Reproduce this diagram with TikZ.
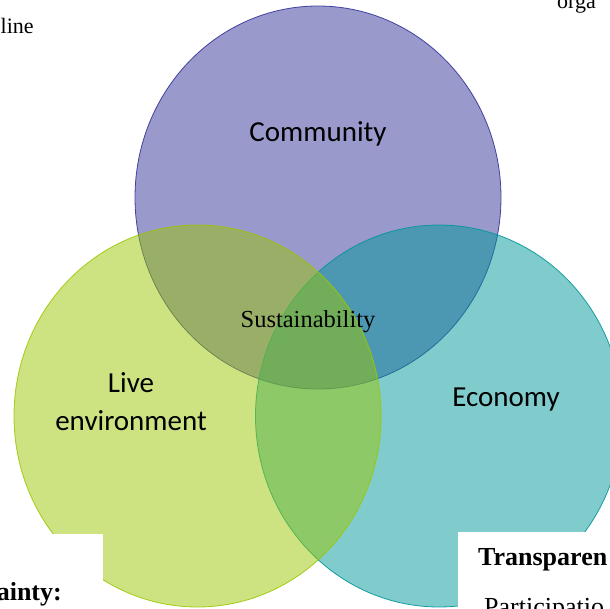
\documentclass[tikz,border=0pt]{standalone}
\usepackage{fontspec}
\setmainfont{Liberation Serif}
\newfontfamily\labelfont{Carlito}
\definecolor{commC}{HTML}{333399}
\definecolor{envC}{HTML}{9BC703}
\definecolor{ecoC}{HTML}{019799}
\begin{document}
\begin{tikzpicture}[x=1pt,y=-1pt,
  venn/.style={line width=0.8pt, fill opacity=0.5, draw opacity=0.9},
  setlabel/.style={inner sep=0pt, font=\labelfont\fontsize{29}{38}\selectfont, align=center},
  bodytext/.style={inner sep=0pt, font=\fontsize{26}{30}\selectfont},
  boldtext/.style={inner sep=0pt, font=\bfseries\fontsize{26}{30}\selectfont},
  smalltext/.style={inner sep=0pt, font=\fontsize{22}{26}\selectfont},
  textbox/.style={fill=white, draw=none}]
\useasboundingbox (0,0) rectangle (610,609);
\clip (0,0) rectangle (610,609);

% the three sets
\path[venn, draw=commC, fill=commC] (318,197.5) ellipse [x radius=183, y radius=191.5];
\path[venn, draw=ecoC, fill=ecoC] (439,416) ellipse [x radius=183.5, y radius=191];
\path[venn, draw=envC, fill=envC] (197.5,416) ellipse [x radius=183.5, y radius=191];

% surrounding text boxes laid over the diagram
\path[textbox] (0,534) rectangle (103,612);
\path[textbox] (458,532) rectangle (612,612);

% set labels
\node[setlabel] (community) at (318,134) {Community};
\node[setlabel] (liveenv) at (131,402) {Live\\environment};
\node[setlabel] (economy) at (506,400) {Economy};
\node[inner sep=0pt, font=\fontsize{24.5}{30}\selectfont, anchor=base] (sustain) at (308,327) {Sustainability};

% surrounding text
\node[smalltext, anchor=base west] (lineword) at (0.5,34) {line};
\node[smalltext, anchor=base west] (orgword) at (557,9) {orga};
\node[boldtext, anchor=base east] (uncert) at (62,600) {ainty:};
\node[boldtext, anchor=base west] (transp) at (478,565) {Transparen};
\node[bodytext, anchor=base west] (partic) at (484,615) {Participatio};
\end{tikzpicture}
\end{document}
